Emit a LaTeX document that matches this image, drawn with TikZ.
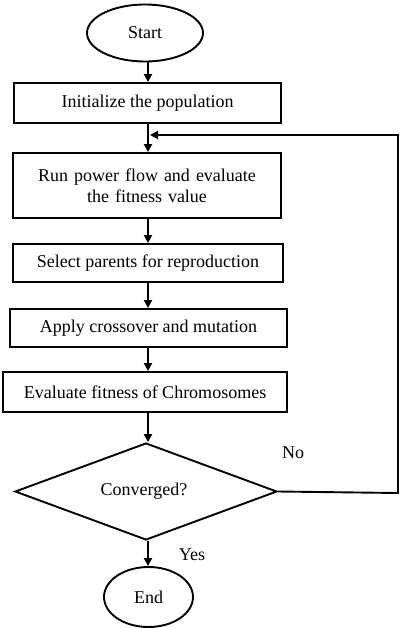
\documentclass[tikz,border=0pt]{standalone}
\usepackage{fontspec}
\setmainfont{Liberation Serif}
\usetikzlibrary{shapes.geometric,arrows.meta}
\begin{document}
\begin{tikzpicture}[x=1pt,y=-1pt,
  every node/.style={font=\fontsize{18}{21}\selectfont},
  term/.style={draw,ellipse,line width=1.9pt,inner sep=0pt},
  proc/.style={draw,rectangle,line width=1.9pt,inner sep=0pt,align=center},
  dec/.style={draw,diamond,line width=1.9pt,inner sep=0pt},
  arr/.style={line width=1.9pt,-{Triangle[length=8pt,width=8pt]}},
  lbl/.style={inner sep=0pt}]
\useasboundingbox (0,0) rectangle (400,628);
\node[term,minimum width=116pt,minimum height=57pt] (start) at (145,33) {Start};
\node[proc,minimum width=267pt,minimum height=40pt] (init) at (147.5,103) {Initialize the population};
\node[proc,minimum width=268pt,minimum height=65pt,text width=260pt] (run) at (147,185.5) {Run power flow and evaluate\\the fitness value};
\node[proc,minimum width=270pt,minimum height=38pt] (sel) at (148,263) {Select parents for reproduction};
\node[proc,minimum width=277pt,minimum height=38pt] (app) at (148.5,328) {Apply crossover and mutation};
\node[proc,minimum width=284pt,minimum height=40pt] (eva) at (145,392) {Evaluate fitness of Chromosomes};
\node[dec,minimum width=262pt,minimum height=97pt,shape aspect=2.7] (conv) at (146,491.5) {};
\node[lbl] at (144,491) {Converged?};
\node[term,minimum width=89pt,minimum height=60pt] (end) at (148.5,597) {End};
\node[lbl] (no) at (293,453) {No};
\node[lbl] (yes) at (192,555) {Yes};
\coordinate (c1) at (398,493);
\coordinate (c2) at (398,135);
\coordinate (c3) at (150,135);
\draw[arr] (start.south -| 148,0) -- (init.north -| 148,0);
\draw[arr] (init.south -| 148,0) -- (run.north -| 148,0);
\draw[arr] (run.south -| 148,0) -- (sel.north -| 148,0);
\draw[arr] (sel.south -| 148,0) -- (app.north -| 148,0);
\draw[arr] (app.south -| 148,0) -- (eva.north -| 148,0);
\draw[arr] (eva.south -| 148,0) -- (conv.north -| 148,0);
\draw[arr] (conv.south -| 148,0) -- (end.north -| 148,0);
\draw[arr] (conv.east) -- (c1) -- (c2) -- (c3);
\end{tikzpicture}
\end{document}
